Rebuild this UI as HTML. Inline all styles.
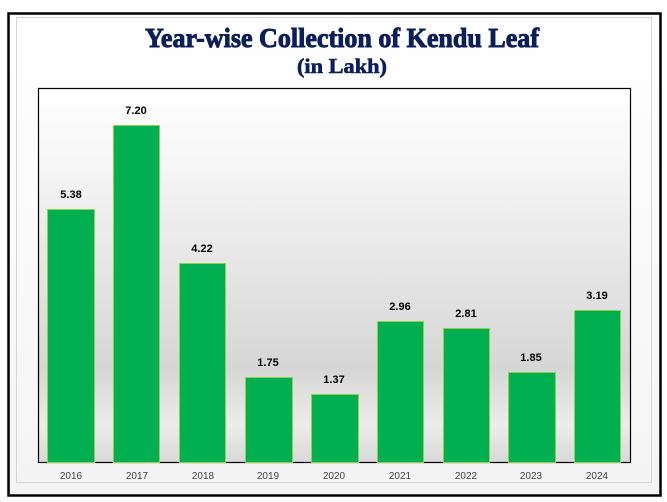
<!DOCTYPE html>
<html><head><style>
body{margin:0;background:#fff;}
</style></head><body>
<svg width="667" height="502" xmlns="http://www.w3.org/2000/svg" style="display:block">
<defs>
<linearGradient id="bg" x1="0" y1="0" x2="0" y2="1">
<stop offset="0" stop-color="#ffffff"/>
<stop offset="0.2" stop-color="#f6f6f6"/>
<stop offset="0.75" stop-color="#d6d6d6"/>
<stop offset="0.9" stop-color="#ececec"/>
<stop offset="1" stop-color="#d8d8d8"/>
</linearGradient>
<linearGradient id="ob" x1="0" y1="0" x2="0" y2="1">
<stop offset="0" stop-color="#ffffff"/>
<stop offset="1" stop-color="#f4f4f4"/>
</linearGradient>
</defs>
<rect x="8.5" y="13.5" width="652" height="482" fill="url(#ob)" stroke="#000" stroke-width="2.5"/>
<rect x="16.5" y="17.5" width="635" height="465" fill="none" stroke="#d6d6d6"/>
<text x="342" y="47" text-anchor="middle" font-family="Liberation Serif, serif" font-weight="bold" font-size="27" fill="#0c1f5a" stroke="#0c1f5a" stroke-width="0.9" textLength="394" lengthAdjust="spacingAndGlyphs">Year-wise Collection of Kendu Leaf</text>
<text x="342" y="73" text-anchor="middle" font-family="Liberation Serif, serif" font-weight="bold" font-size="21" fill="#0c1f5a" stroke="#0c1f5a" stroke-width="0.6" textLength="90" lengthAdjust="spacingAndGlyphs">(in Lakh)</text>
<rect x="38.5" y="88.5" width="592" height="374" fill="url(#bg)" stroke="#000" stroke-width="1.2"/>
<g fill="#00b050" stroke="#92d050" stroke-width="1">
<rect x="47.5" y="209.5" width="47" height="253"/>
<rect x="113.5" y="125.5" width="46" height="337"/>
<rect x="179.5" y="263.5" width="46" height="199"/>
<rect x="245.5" y="377.5" width="47" height="85"/>
<rect x="311.5" y="394.5" width="47" height="68"/>
<rect x="377.5" y="321.5" width="46" height="141"/>
<rect x="443.5" y="328.5" width="46" height="134"/>
<rect x="508.5" y="372.5" width="47" height="90"/>
<rect x="574.5" y="310.5" width="46" height="152"/>
</g>
<g font-family="Liberation Sans, sans-serif" font-weight="bold" font-size="11" fill="#000" text-anchor="middle">
<text x="71" y="198">5.38</text>
<text x="136" y="114">7.20</text>
<text x="202" y="252">4.22</text>
<text x="268" y="366">1.75</text>
<text x="334" y="383">1.37</text>
<text x="400" y="310">2.96</text>
<text x="466" y="317">2.81</text>
<text x="531" y="361">1.85</text>
<text x="597" y="299">3.19</text>
</g>
<g font-family="Liberation Sans, sans-serif" font-size="10" fill="#404040" text-anchor="middle">
<text x="71" y="479">2016</text>
<text x="137" y="479">2017</text>
<text x="203" y="479">2018</text>
<text x="268" y="479">2019</text>
<text x="334" y="479">2020</text>
<text x="400" y="479">2021</text>
<text x="466" y="479">2022</text>
<text x="531" y="479">2023</text>
<text x="597" y="479">2024</text>
</g>
</svg>
</body></html>
